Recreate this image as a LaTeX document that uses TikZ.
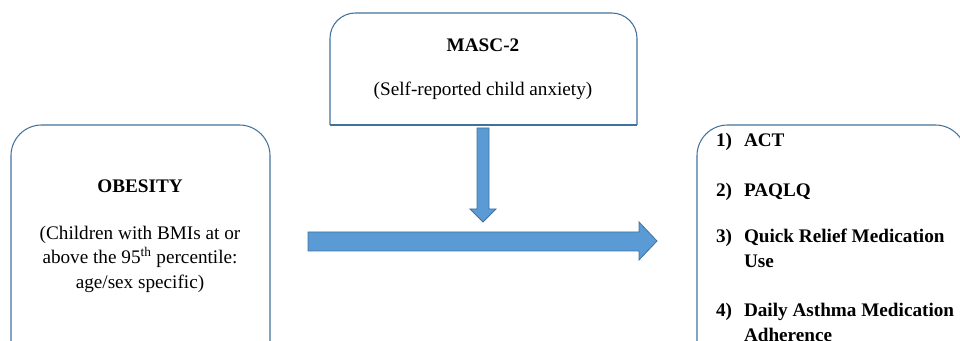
\documentclass[tikz,border=0pt]{standalone}
\usepackage{fontspec}
\setmainfont{Liberation Serif}
\usepackage{xcolor}
\definecolor{frameBlue}{HTML}{41719C}
\definecolor{fillBlue}{HTML}{5B9BD5}
\usetikzlibrary{positioning}

\begin{document}
\begin{tikzpicture}[
  x=0.75pt, y=-0.75pt,
  every node/.style={inner sep=0pt, outer sep=0pt},
  frame/.style={draw=frameBlue, line width=0.8pt},
  blockarrow/.style={fill=fillBlue, draw=frameBlue, line width=0.6pt, line join=miter},
  title/.style={font=\fontsize{14.4}{18}\selectfont\bfseries},
  note/.style={font=\fontsize{14.4}{18.4}\selectfont, align=center},
  item/.style={font=\fontsize{14.4}{18}\selectfont\bfseries, anchor=base west}
]
  \clip (0,0) rectangle (960,341);

  % boxes, only their tops are rounded
  \draw[frame, rounded corners=19pt] (330,125) |- (483,13) -| (637,125);
  \draw[frame] (330,125) -- (637,125);
  \draw[frame, rounded corners=23pt] (11,370) |- (140,125) -| (270,370);
  \draw[frame, rounded corners=23pt] (697,370) |- (830,125) -| (966,370);

  % moderator
  \node[title] (masc) at (483,45) {MASC-2};
  \node[note] (masc note) at (483,91) {(Self-reported child anxiety)};

  % predictor
  \node[title] (obesity) at (140,186) {OBESITY};
  \node[note] (obesity note) at (140,259) {(Children with BMIs at or\\
    above the 95\textsuperscript{th} percentile:\\
    age/sex specific)};

  % outcomes
  \node[item] (n1) at (716,147) {1)};
  \node[item] (act) at (744,147) {ACT};
  \node[item] (n2) at (716,197) {2)};
  \node[item] (paqlq) at (744,197) {PAQLQ};
  \node[item] (n3) at (716,243) {3)};
  \node[item] (relief) at (744,243) {Quick Relief Medication};
  \node[item] (relief b) at (744,268) {Use};
  \node[item] (n4) at (716,317) {4)};
  \node[item] (adherence) at (744,317) {Daily Asthma Medication};
  \node[item] (adherence b) at (744,342) {Adherence};

  % block arrows
  \draw[blockarrow] (477,128) -- (489,128) -- (489,209) -- (496,209)
    -- (483,222) -- (470,209) -- (477,209) -- cycle;
  \draw[blockarrow] (308,232) -- (639,232) -- (639,222) -- (657,241)
    -- (639,260) -- (639,251) -- (308,251) -- cycle;
\end{tikzpicture}
\end{document}
